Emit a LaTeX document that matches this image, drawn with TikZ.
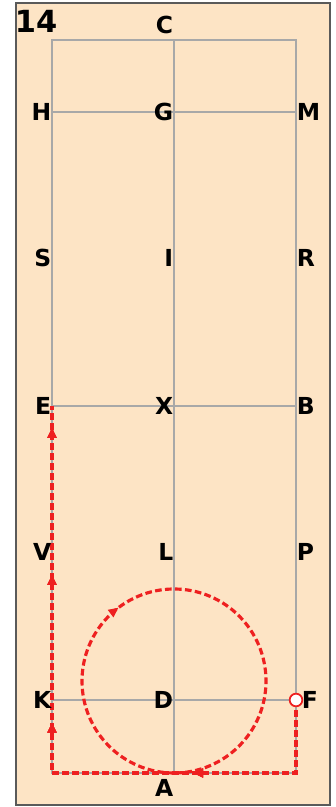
\documentclass[tikz,border=0pt]{standalone}
\usepackage{fontspec}
\setsansfont{DejaVu Sans}
\usetikzlibrary{arrows.meta,decorations.markings}

\definecolor{sand}{RGB}{253,228,197}
\definecolor{rim}{RGB}{90,90,90}
\definecolor{guide}{RGB}{168,168,168}
\definecolor{track}{RGB}{238,32,32}

\begin{document}
\begin{tikzpicture}[
  x=0.03cm, y=0.03cm,
  arena/.style={draw=rim, line width=2pt, fill=sand},
  guideline/.style={draw=guide, line width=1.8pt},
  letter/.style={font=\sffamily\bfseries\fontsize{20}{20}\selectfont, inner sep=0.5pt},
  route/.style={draw=track, line width=2.7pt, dash pattern=on 2mm off 1mm},
  tip/.style={decoration={markings, mark=at position #1 with {\arrow[solid]{Triangle[length=3mm, width=2.6mm]}}}, postaction={decorate}},
  startdot/.style={circle, draw=track, fill=white, line width=1.5pt, minimum size=3.8mm, inner sep=0pt}
]
  \useasboundingbox (0,0) rectangle (336,807);
  \fill[white] (0,0) rectangle (336,807);
  \draw[arena] (16,2) rectangle (330,804);

  % arena points
  \coordinate (c) at (174,767);
  \coordinate (h) at (52,695);
  \coordinate (g) at (174,695);
  \coordinate (m) at (296,695);
  \coordinate (s) at (52,549);
  \coordinate (i) at (174,549);
  \coordinate (r) at (296,549);
  \coordinate (e) at (52,401);
  \coordinate (x) at (174,401);
  \coordinate (b) at (296,401);
  \coordinate (v) at (52,255);
  \coordinate (l) at (174,255);
  \coordinate (p) at (296,255);
  \coordinate (k) at (52,107);
  \coordinate (d) at (174,107);
  \coordinate (f) at (296,107);
  \coordinate (a) at (174,34);

  % fence and centre lines
  \draw[guideline] (k |- a) rectangle (m |- c);
  \draw[guideline] (c) -- (a);
  \draw[guideline] (h) -- (m);
  \draw[guideline] (e) -- (b);
  \draw[guideline] (k) -- (f);

  % figure
  \draw[route, tip=0.397] (a) arc[start angle=-90, delta angle=-360, radius=92];
  \draw[route, tip=0.257, tip=0.537, tip=0.753, tip=0.968]
    (f) -- (f |- a) -- (k |- a) -- (e);
  \node[startdot] (start) at (f) {};

  % letters
  \node[font=\sffamily\bfseries\fontsize{26}{26}\selectfont, inner sep=0pt] (num) at (36,786) {14};
  \node[letter, anchor=east] (C) at (174,782) {C};
  \node[letter, anchor=east] (H) at (h) {H};
  \node[letter, anchor=east] (G) at (g) {G};
  \node[letter, anchor=west] (M) at (m) {M};
  \node[letter, anchor=east] (S) at (s) {S};
  \node[letter, anchor=east] (I) at (i) {I};
  \node[letter, anchor=west] (R) at (r) {R};
  \node[letter, anchor=east] (E) at (e) {E};
  \node[letter, anchor=east] (X) at (x) {X};
  \node[letter, anchor=west] (B) at (b) {B};
  \node[letter, anchor=east] (V) at (v) {V};
  \node[letter, anchor=east] (L) at (l) {L};
  \node[letter, anchor=west] (P) at (p) {P};
  \node[letter, anchor=east] (K) at (k) {K};
  \node[letter, anchor=east] (D) at (d) {D};
  \node[letter, anchor=west, xshift=1.5mm] (F) at (f) {F};
  \node[letter, anchor=east] (A) at (174,19) {A};
\end{tikzpicture}
\end{document}
